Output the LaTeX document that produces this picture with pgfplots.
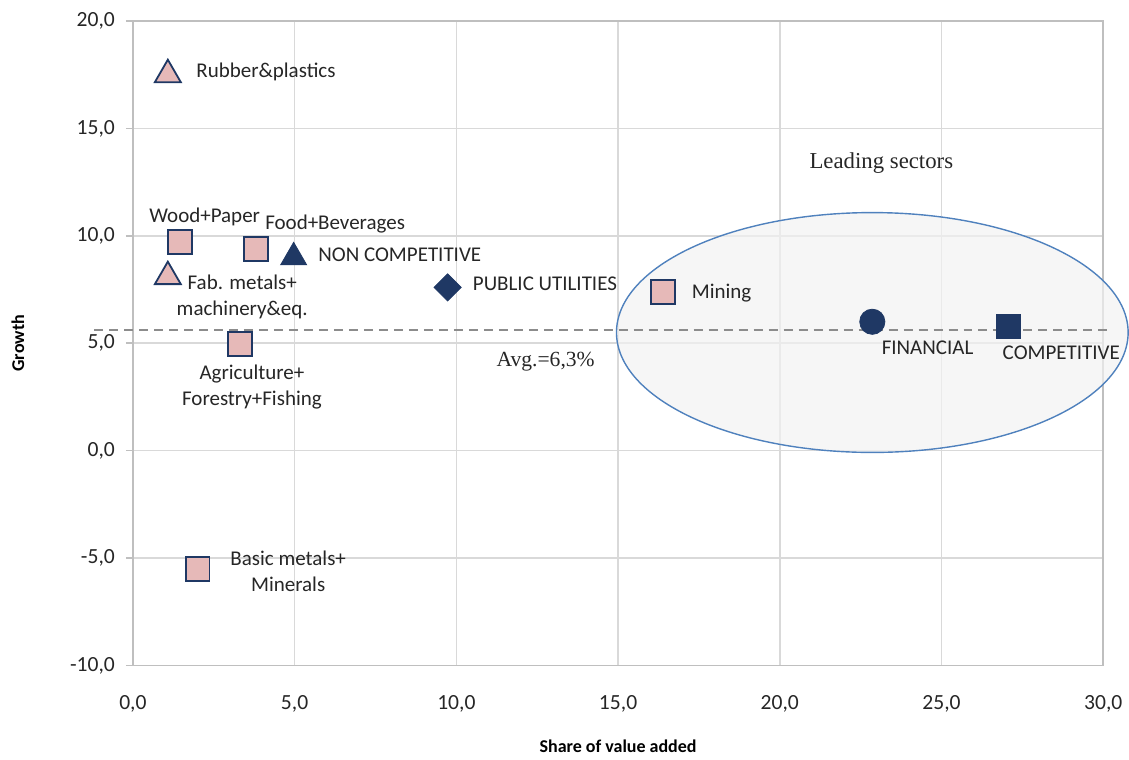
\documentclass[border=0pt]{standalone}
\usepackage{pgfplots}
\pgfplotsset{compat=1.18}
\usepackage{fontspec}
\setmainfont{Carlito}
\newfontfamily\serifx{Liberation Serif}
\definecolor{pinkf}{RGB}{230,185,184}
\definecolor{navy}{RGB}{31,56,100}
\definecolor{gridc}{RGB}{217,217,217}
\definecolor{axc}{RGB}{191,191,191}
\definecolor{ellb}{RGB}{79,129,189}
\begin{document}
\begin{tikzpicture}
\begin{axis}[
  scale only axis, width=485.5pt, height=322.5pt,
  xmin=0, xmax=30, ymin=-10, ymax=20,
  xtick={0,5,...,30}, ytick={-10,-5,...,20},
  grid=major, major grid style={gridc, line width=0.8pt},
  axis line style={axc, line width=0.9pt},
  clip=false,
  tick style={axc, line width=0.8pt},
  xtick style={draw=none},
  ytick pos=left, xtick pos=bottom,
  tick align=outside, major tick length=3.5pt,
  /pgf/number format/.cd, fixed, fixed zerofill, precision=1, use comma, assume math mode=true,
  /pgfplots/.cd,
  ticklabel style={font=\fontsize{10.8}{12}\selectfont, text=black!85},
  xticklabel style={yshift=-8pt},
  yticklabel style={xshift=-2pt},
  xlabel={\textbf{Share of value added}},
  ylabel={\textbf{Growth}},
  label style={font=\fontsize{9}{10}\selectfont},
  xlabel style={at={(rel axis cs:0.5,0)}, anchor=center, yshift=-40.5pt},
  ylabel style={at={(rel axis cs:0,0.5)}, anchor=center, yshift=57.5pt},
]
% bounding box
\path (rel axis cs:0,0) ++(-66.5pt,-46pt) coordinate (bbA);
\path (rel axis cs:1,1) ++(12.5pt,10.5pt) coordinate (bbB);
\path (bbA) (bbB);
% ellipse
\fill[black!5, fill opacity=0.7] (axis cs:22.86,5.5) ellipse [x radius=128pt, y radius=60pt];
\draw[ellb, line width=0.7pt] (axis cs:22.86,5.5) ellipse [x radius=128pt, y radius=60pt];
% average line
\addplot[black!45, line width=1pt, dash pattern=on 4.5pt off 3pt, forget plot] coordinates {(-1.2,5.6) (30.2,5.6)};
% pink squares
\addplot[only marks, mark=square*, mark size=6pt, mark options={fill=pinkf, draw=navy, line width=0.9pt}]
 coordinates {(1.45,9.7) (3.8,9.4) (16.4,7.4) (3.3,4.98) (2.0,-5.5)};
% pink triangles
\addplot[only marks, mark=triangle*, mark size=7.5pt, mark options={fill=pinkf, draw=navy, line width=0.9pt}]
 coordinates {(1.08,17.5) (1.08,8.1)};
% dark triangle
\addplot[only marks, mark=triangle*, mark size=7.5pt, mark options={fill=navy, draw=navy}]
 coordinates {(4.97,9.0)};
% dark diamond
\addplot[only marks, mark=square*, mark size=4.8pt, mark options={fill=navy, draw=navy, rotate=45}]
 coordinates {(9.73,7.6)};
% dark circle
\addplot[only marks, mark=*, mark size=6.3pt, mark options={fill=navy, draw=navy}]
 coordinates {(22.86,6.0)};
% dark square
\addplot[only marks, mark=square*, mark size=6pt, mark options={fill=navy, draw=navy}]
 coordinates {(27.06,5.77)};
% labels
\begin{scope}[every node/.style={font=\fontsize{10.5}{13}\selectfont, text=black!85, inner sep=0pt}]
\node[anchor=west] at (axis cs:1.95,17.63) {Rubber\&plastics};
\node at (axis cs:2.22,10.88) {Wood+Paper};
\node[anchor=west] at (axis cs:4.08,10.56) {Food+Beverages};
\node[anchor=west] at (axis cs:5.72,9.12) {NON COMPETITIVE};
\node[align=center] at (axis cs:3.38,7.16) {Fab. metals+\\machinery\&eq.};
\node[anchor=west] at (axis cs:10.5,7.77) {PUBLIC UTILITIES};
\node[anchor=west] at (axis cs:17.27,7.35) {Mining};
\node[anchor=west] at (axis cs:23.14,4.79) {FINANCIAL};
\node[anchor=west] at (axis cs:26.88,4.56) {COMPETITIVE};
\node[align=center] at (axis cs:3.68,2.98) {Agriculture+\\Forestry+Fishing};
\node[align=center] at (axis cs:4.80,-5.60) {Basic metals+\\Minerals};
\node[font=\serifx\fontsize{10.8}{12}\selectfont] at (axis cs:12.76,4.14) {Avg.=6,3\%};
\node[font=\serifx\fontsize{11.4}{12}\selectfont] at (axis cs:23.14,13.4) {Leading sectors};
\end{scope}
\end{axis}
\end{tikzpicture}
\end{document}
